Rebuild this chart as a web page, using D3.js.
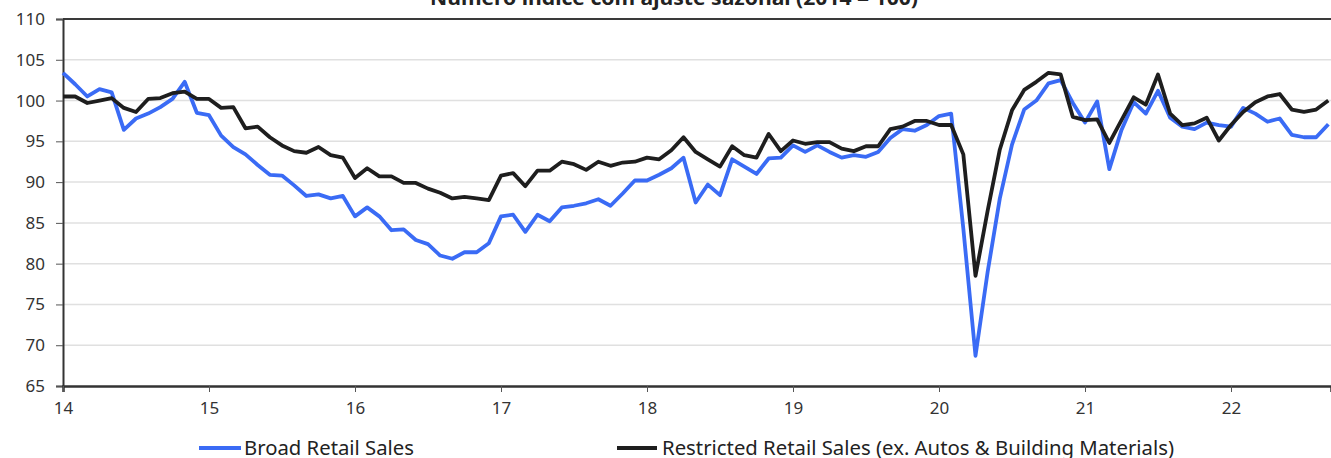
<!DOCTYPE html>
<html lang="pt">
<head>
<meta charset="UTF-8">
<title>Retail Sales</title>
<script src="https://cdn.jsdelivr.net/npm/d3@7"></script>
<style>
  body { margin: 0; background: #fff; }
  svg { display: block; font-family: "Noto Sans", sans-serif; }
</style>
</head>
<body>
<script>
// monthly, Jan 2014 .. Sep 2022
var startYear = 14;
var yTicks = [65, 70, 75, 80, 85, 90, 95, 100, 105, 110];
var xTicks = [14, 15, 16, 17, 18, 19, 20, 21, 22];
var seriesNames = ["Broad Retail Sales", "Restricted Retail Sales (ex. Autos & Building Materials)"];

var broad = [
  103.4, 102.0, 100.5, 101.4, 101.0, 96.4, 97.8, 98.4, 99.2, 100.2, 102.3, 98.5,
  98.2, 95.7, 94.3, 93.4, 92.1, 90.9, 90.8, 89.6, 88.3, 88.5, 88.0, 88.3,
  85.8, 86.9, 85.8, 84.1, 84.2, 82.9, 82.4, 81.0, 80.6, 81.4, 81.4, 82.5,
  85.8, 86.0, 83.9, 86.0, 85.2, 86.9, 87.1, 87.4, 87.9, 87.1, 88.6, 90.2,
  90.2, 90.9, 91.7, 93.0, 87.5, 89.7, 88.4, 92.8, 91.9, 91.0, 92.9, 93.0,
  94.5, 93.7, 94.5, 93.7, 93.0, 93.3, 93.1, 93.7, 95.4, 96.5, 96.3, 97.0,
  98.1, 98.4, 84.3, 68.7, 79.0, 88.0, 94.6, 98.9, 100.0, 102.1, 102.5, 99.7,
  97.3, 99.9, 91.6, 96.4, 99.8, 98.4, 101.2, 97.9, 96.8, 96.5, 97.3, 97.0,
  96.8, 99.1, 98.4, 97.4, 97.8, 95.8, 95.5, 95.5, 97.1
];

var restricted = [
  100.5, 100.5, 99.7, 100.0, 100.3, 99.1, 98.6, 100.2, 100.3, 100.9, 101.1, 100.2,
  100.2, 99.1, 99.2, 96.6, 96.8, 95.5, 94.5, 93.8, 93.6, 94.3, 93.3, 93.0,
  90.5, 91.7, 90.7, 90.7, 89.9, 89.9, 89.2, 88.7, 88.0, 88.2, 88.0, 87.8,
  90.8, 91.1, 89.5, 91.4, 91.4, 92.5, 92.2, 91.5, 92.5, 92.0, 92.4, 92.5,
  93.0, 92.8, 93.9, 95.5, 93.7, 92.8, 91.9, 94.4, 93.3, 93.0, 95.9, 93.8,
  95.1, 94.7, 94.9, 94.9, 94.1, 93.8, 94.4, 94.4, 96.5, 96.8, 97.5, 97.5,
  97.0, 97.0, 93.4, 78.5, 86.5, 94.0, 98.8, 101.3, 102.3, 103.4, 103.2, 98.0,
  97.6, 97.7, 94.8, 97.6, 100.4, 99.5, 103.2, 98.4, 97.0, 97.2, 97.9, 95.1,
  97.0, 98.6, 99.8, 100.5, 100.8, 98.9, 98.6, 98.9, 100.0
];

var colors = ["#3a6bf5", "#1e1e1e"];

var width = 1331, height = 458;
var plotLeft = 63, plotRight = 1331, plotTop = 19, plotBottom = 386;

var svg = d3.select("body").append("svg")
    .attr("width", width)
    .attr("height", height);

var x = d3.scaleLinear()
    .domain([startYear, startYear + (plotRight - plotLeft) / 146])
    .range([plotLeft, plotRight]);

var y = d3.scaleLinear()
    .domain([65, 110])
    .range([plotBottom, plotTop]);

// gridlines
svg.append("g")
    .selectAll("line")
    .data(yTicks.filter(function (d) { return d > 65 && d < 110; }))
    .enter().append("line")
    .attr("x1", plotLeft).attr("x2", plotRight)
    .attr("y1", function (d) { return y(d); })
    .attr("y2", function (d) { return y(d); })
    .attr("stroke", "#e0e0e0")
    .attr("stroke-width", 1.5);

// top frame line
svg.append("line")
    .attr("x1", plotLeft).attr("x2", plotRight)
    .attr("y1", plotTop).attr("y2", plotTop)
    .attr("stroke", "#3a3a3a")
    .attr("stroke-width", 2);

// y axis
var yAxis = svg.append("g")
    .attr("transform", "translate(" + plotLeft + ",0)")
    .call(d3.axisLeft(y).tickValues(yTicks).tickSize(7).tickPadding(11));
yAxis.select(".domain").attr("stroke", "#333").attr("stroke-width", 2);
yAxis.selectAll(".tick line").attr("stroke", "#555").attr("stroke-width", 1);
yAxis.selectAll("text")
    .attr("fill", "#333")
    .style("font-size", "17px")
    .style("font-family", "Noto Sans, sans-serif");

// x axis
var xAxis = svg.append("g")
    .attr("transform", "translate(0," + plotBottom + ")")
    .call(d3.axisBottom(x).tickValues(xTicks).tickSize(6).tickPadding(10));
xAxis.select(".domain").attr("stroke", "#333").attr("stroke-width", 2.5);
xAxis.selectAll(".tick line").attr("stroke", "#555").attr("stroke-width", 1);
xAxis.selectAll("text")
    .attr("fill", "#333")
    .style("font-size", "17px")
    .style("font-family", "Noto Sans, sans-serif");

// lines
var line = d3.line()
    .x(function (d, i) { return x(startYear + i / 12); })
    .y(function (d) { return y(d); });

[broad, restricted].forEach(function (s, k) {
    svg.append("path")
        .datum(s)
        .attr("fill", "none")
        .attr("stroke", colors[k])
        .attr("stroke-width", 3.8)
        .attr("stroke-linejoin", "round")
        .attr("d", line);
});

// title (cut at top)
svg.append("text")
    .attr("x", 674)
    .attr("y", 5)
    .attr("text-anchor", "middle")
    .attr("fill", "#222")
    .attr("textLength", 488)
    .attr("lengthAdjust", "spacingAndGlyphs")
    .style("font-size", "19px")
    .style("font-weight", "bold")
    .text("Número índice com ajuste sazonal (2014 = 100)");

// legend
var legend = [
    { x1: 199, x2: 241, tx: 244, tw: 170 },
    { x1: 617, x2: 657, tx: 662, tw: 512 }
];
legend.forEach(function (l, k) {
    svg.append("line")
        .attr("x1", l.x1).attr("x2", l.x2)
        .attr("y1", 448).attr("y2", 448)
        .attr("stroke", colors[k])
        .attr("stroke-width", 4);
    svg.append("text")
        .attr("x", l.tx)
        .attr("y", 455)
        .attr("fill", "#222")
        .attr("textLength", l.tw)
        .attr("lengthAdjust", "spacingAndGlyphs")
        .style("font-size", "19px")
        .text(seriesNames[k]);
});
</script>
</body>
</html>
